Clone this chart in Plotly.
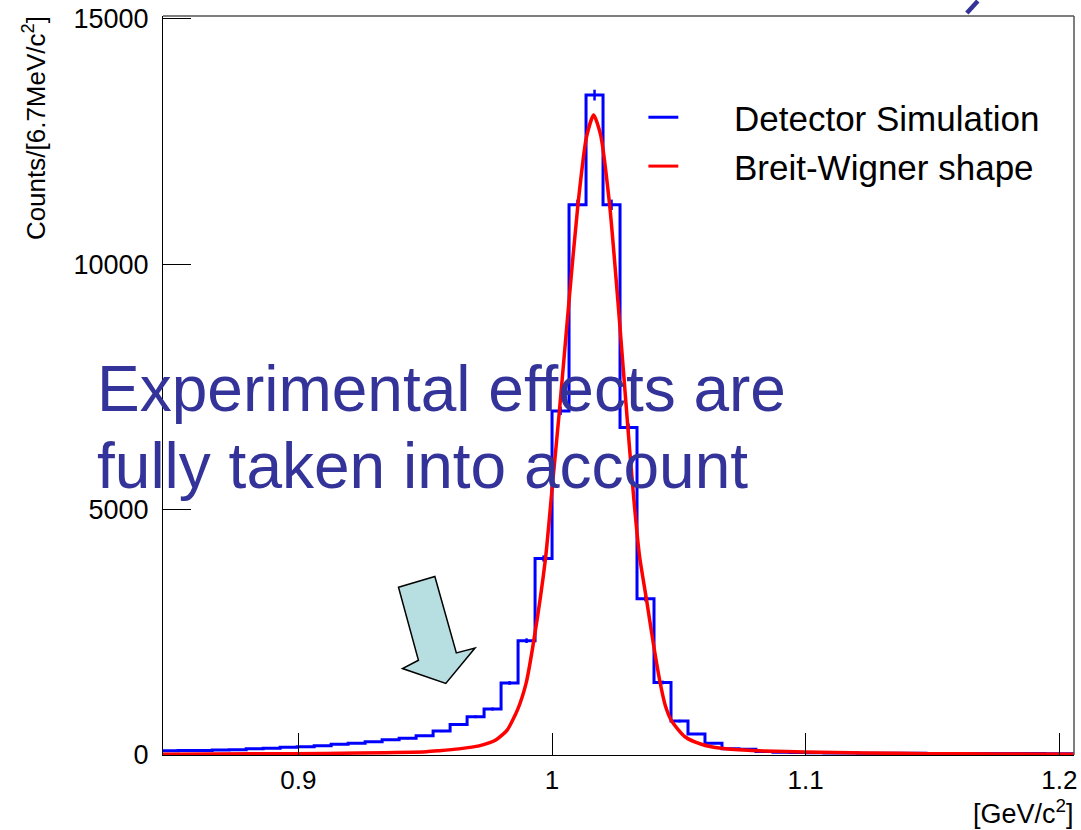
import plotly.graph_objects as go

# ---------------- data ----------------
bin_low_edges = [0.8459, 0.8526, 0.8593, 0.8660, 0.8727, 0.8794, 0.8861, 0.8928, 0.8995,
                 0.9062, 0.9129, 0.9196, 0.9263, 0.9330, 0.9397, 0.9464, 0.9531, 0.9598,
                 0.9665, 0.9732, 0.9799, 0.9866, 0.9933, 1.0000, 1.0067, 1.0134, 1.0201,
                 1.0268, 1.0335, 1.0402, 1.0469, 1.0536, 1.0603, 1.0670, 1.0737, 1.0804,
                 1.0871, 1.0938, 1.1005, 1.1072, 1.1139, 1.1206, 1.1273, 1.1340, 1.1407,
                 1.1474, 1.1541, 1.1608, 1.1675, 1.1742, 1.1809, 1.1876, 1.1943, 1.2010]
last_bin_high_edge = 1.2077

sim_counts = [87, 90, 93, 100, 108, 128, 138, 156, 169,
              189, 217, 240, 271, 311, 339, 392, 488, 624,
              779, 937, 1468, 2330, 4005, 7012, 11213, 13449, 11213,
              6673, 3185, 1478, 691, 427, 238, 125, 118, 70,
              58, 50, 45, 42, 40, 38, 36, 35, 34,
              33, 32, 31, 30, 30, 29, 29, 28, 28]

sim_errors = [9, 9, 10, 10, 10, 11, 12, 12, 13,
              14, 15, 15, 16, 18, 18, 20, 22, 25,
              28, 31, 38, 48, 63, 84, 106, 110, 106,
              82, 56, 38, 26, 21, 15, 11, 11, 8,
              8, 7, 7, 6, 6, 6, 6, 6, 6,
              6, 6, 6, 5, 5, 5, 5, 5, 5]

bw_mass = [0.8466, 0.8977, 0.9240, 0.9504, 0.9555, 0.9633, 0.9712, 0.9778, 0.9823,
           0.9865, 0.9898, 0.9928, 0.9974, 1.0000, 1.0029, 1.0066, 1.0102, 1.0136,
           1.0164, 1.0191, 1.0227, 1.0262, 1.0299, 1.0321, 1.0345, 1.0373, 1.0400,
           1.0426, 1.0447, 1.0472, 1.0524, 1.0589, 1.0668, 1.0773, 1.0840, 1.0997,
           1.1233, 1.1492, 1.1755, 1.2058]
bw_counts = [14, 27, 40, 67, 87, 125, 185, 305, 508,
             935, 1470, 2331, 4000, 5420, 7012, 9200, 11213, 12600,
             13043, 12650, 11213, 9100, 6673, 5300, 4050, 3150, 2250,
             1478, 1000, 691, 372, 220, 136, 95, 81, 61,
             41, 27, 20, 14]

series_names = ["Detector Simulation", "Breit-Wigner shape"]
series_colors = ["#0000ff", "#ff0000"]

x_tick_vals = [0.9, 1.0, 1.1, 1.2]
x_tick_text = ["0.9", "1", "1.1", "1.2"]
y_tick_vals = [0, 5000, 10000, 15000]
y_tick_text = ["0", "5000", "10000", "15000"]

# ---------------- geometry helpers ----------------
W, H = 1081, 830
L, R, T, B = 163, 4, 14, 75
PW, PH = W - L - R, H - T - B


def px(x):
    return (x - L) / PW


def py(y):
    return (H - B - y) / PH


FONT = "Liberation Sans, Arial, Helvetica, sans-serif"
TXT_BLUE = "rgb(51,51,153)"

fig = go.Figure()

hist_x = bin_low_edges + [last_bin_high_edge]
hist_y = sim_counts + [sim_counts[-1]]
fig.add_trace(go.Scatter(
    x=hist_x, y=hist_y, mode="lines", line=dict(shape="hv", color=series_colors[0], width=3),
    name=series_names[0], showlegend=False))

edges = bin_low_edges + [last_bin_high_edge]
centers = [(edges[i] + edges[i + 1]) / 2 for i in range(len(bin_low_edges))]
fig.add_trace(go.Scatter(
    x=centers, y=sim_counts, mode="markers", marker=dict(size=1, color=series_colors[0]),
    error_y=dict(type="data", array=sim_errors, visible=True, color=series_colors[0],
                 thickness=2.5, width=0),
    showlegend=False, hoverinfo="skip"))

fig.add_trace(go.Scatter(
    x=bw_mass, y=bw_counts, mode="lines",
    line=dict(shape="spline", smoothing=0.6, color=series_colors[1], width=3.5),
    name=series_names[1], showlegend=False))

fig.update_layout(
    width=W, height=H, autosize=False,
    margin=dict(l=L, r=R, t=T, b=B, pad=0),
    paper_bgcolor="white", plot_bgcolor="white",
    font=dict(family=FONT, color="black"),
    showlegend=False,
    xaxis=dict(range=[0.8466, 1.2058], tickvals=x_tick_vals, ticktext=x_tick_text,
               ticks="inside", ticklen=22, tickwidth=1, tickcolor="black",
               showline=True, linecolor="black", linewidth=1,
               showgrid=False, zeroline=False, ticklabeloverflow="allow",
               tickfont=dict(size=26, family=FONT), ticklabelstandoff=2),
    yaxis=dict(range=[0, 15061], tickvals=y_tick_vals, ticktext=y_tick_text,
               ticks="inside", ticklen=28, tickwidth=1, tickcolor="black",
               showline=True, linecolor="black", linewidth=1,
               showgrid=False, zeroline=False, ticklabeloverflow="allow",
               tickfont=dict(size=27, family=FONT), ticklabelstandoff=8),
)

# frame top / right
fig.add_shape(type="line", xref="paper", yref="paper", x0=0, x1=1, y0=1, y1=1,
              line=dict(color="#555555", width=1.5))
fig.add_shape(type="line", xref="paper", yref="paper", x0=1, x1=1, y0=0, y1=1,
              line=dict(color="#555555", width=1.5))

# legend (line samples + labels)
legend_rows_y = [115.5, 164.5]
for name, color, ry in zip(series_names, series_colors, legend_rows_y):
    fig.add_shape(type="line", xref="paper", yref="paper",
                  x0=px(650), x1=px(680), y0=py(ry), y1=py(ry),
                  line=dict(color=color, width=3))
    fig.add_annotation(xref="paper", yref="paper", x=px(734), y=py(ry + 1.5),
                       xanchor="left", yanchor="middle", text=name, showarrow=False,
                       font=dict(size=35, family=FONT, color="black"))

# arrow
arrow_px = [(399.3, 586.7), (435.7, 576.0), (457.3, 652.7), (476.0, 647.7),
            (446.7, 683.3), (403.3, 668.3), (419.3, 660.0)]
path = "M " + " L ".join(f"{px(a):.4f},{py(b):.4f}" for a, b in arrow_px) + " Z"
fig.add_shape(type="path", xref="paper", yref="paper", path=path,
              fillcolor="rgb(183,222,224)", line=dict(color="black", width=1.5), layer="above")

# fragment of cut-off title at top right
fig.add_shape(type="line", xref="paper", yref="paper",
              x0=px(980.5), y0=py(-1), x1=px(969.5), y1=py(11),
              line=dict(color=TXT_BLUE, width=4.5))

# overlay text
fig.add_annotation(xref="paper", yref="paper", x=px(95), y=py(388), xanchor="left", yanchor="middle",
                   text="Experimental effects are", showarrow=False,
                   font=dict(size=64, family=FONT, color=TXT_BLUE))
fig.add_annotation(xref="paper", yref="paper", x=px(95), y=py(465), xanchor="left", yanchor="middle",
                   text="fully taken into account", showarrow=False,
                   font=dict(size=64, family=FONT, color=TXT_BLUE))

# axis titles
fig.add_annotation(xref="paper", yref="paper", x=px(34), y=py(126), xanchor="center", yanchor="middle",
                   text="Counts/[6.7MeV/c<sup>2</sup>]", textangle=-90, showarrow=False,
                   font=dict(size=26, family=FONT, color="black"))
fig.add_annotation(xref="paper", yref="paper", x=px(1079), y=py(812), xanchor="right", yanchor="middle",
                   text="[GeV/c<sup>2</sup>]", showarrow=False,
                   font=dict(size=27, family=FONT, color="black"))

fig.write_html("out.html")
